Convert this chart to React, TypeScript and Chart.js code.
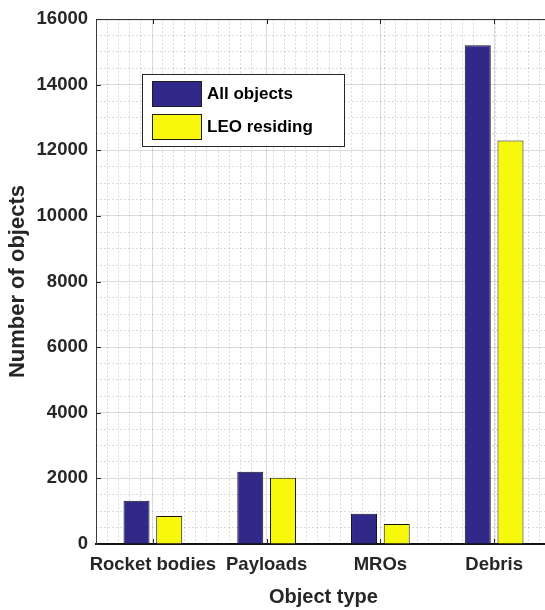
import React, { useEffect, useRef } from "react";
import { Chart, registerables } from "chart.js";

Chart.register(...registerables);

const categories = ["Rocket bodies", "Payloads", "MROs", "Debris"];
const seriesNames = ["All objects", "LEO residing"];
const allObjects = [1320, 2200, 925, 15200];
const leoResiding = [850, 2020, 610, 12300];
const yMin = 0;
const yMax = 16000;
const yMajorStep = 2000;
const yMinorStep = 500;
const xMinorStep = 0.1;
const xTitle = "Object type";
const yTitle = "Number of objects";

const FONT = '"Liberation Sans", Arial, Helvetica, sans-serif';
const TEXT = "#262626";
const MAJOR = "rgba(0,0,0,0.14)";
const MINOR = "rgba(0,0,0,0.14)";
const NAVY = "#30298a";
const YELLOW = "#f8f80c";
const CLEAR = "rgba(0,0,0,0)";

const framePlugin = {
  id: "frameTicks",
  afterDatasetsDraw(chart: any) {
    const { ctx, chartArea, scales } = chart;
    const { left, right, top, bottom } = chartArea;
    ctx.save();
    ctx.strokeStyle = TEXT;
    ctx.lineWidth = 1;
    ctx.beginPath();
    ctx.moveTo(left, top + 0.5);
    ctx.lineTo(right, top + 0.5);
    scales.y.ticks.forEach((t: any) => {
      const py = Math.round(scales.y.getPixelForValue(t.value)) + 0.5;
      ctx.moveTo(left, py);
      ctx.lineTo(left + 5, py);
    });
    categories.forEach((_c, i) => {
      const px = Math.round(scales.x.getPixelForValue(i)) + 0.5;
      ctx.moveTo(px, bottom);
      ctx.lineTo(px, bottom - 5);
      ctx.moveTo(px, top);
      ctx.lineTo(px, top + 5);
    });
    ctx.stroke();
    ctx.restore();
  },
};

const legendPlugin = {
  id: "boxLegend",
  afterDraw(chart: any) {
    const { ctx, chartArea } = chart;
    const x0 = Math.round(chartArea.left + 46);
    const y0 = Math.round(chartArea.top + 55);
    const w = 203;
    const h = 73;
    ctx.save();
    ctx.fillStyle = "#ffffff";
    ctx.fillRect(x0, y0, w, h);
    ctx.strokeStyle = TEXT;
    ctx.lineWidth = 1;
    ctx.strokeRect(x0 + 0.5, y0 + 0.5, w - 1, h - 1);
    chart.data.datasets.forEach((ds: any, i: number) => {
      const sy = y0 + 7 + i * 33;
      ctx.fillStyle = ds.backgroundColor;
      ctx.fillRect(x0 + 10, sy, 50, 26);
      ctx.strokeStyle = "#1f1f1f";
      ctx.strokeRect(x0 + 10.5, sy + 0.5, 49, 25);
      ctx.fillStyle = "#000000";
      ctx.font = `bold 17px ${FONT}`;
      ctx.textBaseline = "middle";
      ctx.textAlign = "left";
      ctx.fillText(ds.label, x0 + 65, sy + 13);
    });
    ctx.restore();
  },
};

const minorX = (c: any) => {
  if (!c || !c.tick) return CLEAR;
  const v = c.tick.value;
  if (Math.abs(v - Math.round(v)) < 1e-6 || Math.abs(v - 0.5) < 1e-6) return CLEAR;
  return MINOR;
};

const minorY = (c: any) => {
  if (!c || !c.tick) return CLEAR;
  return Math.abs(c.tick.value % yMajorStep) < 1e-6 ? CLEAR : MINOR;
};

export default function App() {
  const ref = useRef<HTMLCanvasElement>(null);

  useEffect(() => {
    if (!ref.current) return;
    const chart = new Chart(ref.current, {
      type: "bar",
      data: {
        labels: categories,
        datasets: [
          {
            label: seriesNames[0],
            data: allObjects,
            backgroundColor: NAVY,
            borderColor: "#141414",
            borderWidth: 1,
            xAxisID: "x",
            yAxisID: "y",
            categoryPercentage: 0.575,
            barPercentage: 0.795,
          },
          {
            label: seriesNames[1],
            data: leoResiding,
            backgroundColor: YELLOW,
            borderColor: "#141414",
            borderWidth: 1,
            xAxisID: "x",
            yAxisID: "y",
            categoryPercentage: 0.575,
            barPercentage: 0.795,
          },
        ],
      },
      options: {
        responsive: false,
        animation: false,
        devicePixelRatio: 1,
        layout: { padding: { top: 18, right: 0, bottom: 0, left: 0 } },
        plugins: {
          legend: { display: false },
          tooltip: { enabled: false },
        },
        scales: {
          x: {
            type: "category",
            position: "bottom",
            offset: true,
            grid: { offset: false, color: MAJOR, drawTicks: false },
            border: { display: true, color: "#111111", width: 2 },
            ticks: {
              color: TEXT,
              padding: 10,
              font: { family: FONT, size: 18.5, weight: "bold" },
              maxRotation: 0,
              autoSkip: false,
            },
            title: {
              display: true,
              text: xTitle,
              color: TEXT,
              font: { family: FONT, size: 20, weight: "bold" },
              padding: { top: 0, bottom: 1 },
            },
            afterFit: (s: any) => {
              s.height = 66;
            },
          },
          xMinor: {
            type: "linear",
            position: "bottom",
            min: 0.5,
            max: 4.5,
            ticks: { display: false, stepSize: xMinorStep },
            grid: {
              drawTicks: false,
              color: minorX,
            },
            border: { display: false, dash: [2, 2] },
            afterFit: (s: any) => {
              s.height = 0;
            },
          },
          y: {
            type: "linear",
            position: "left",
            min: yMin,
            max: yMax,
            ticks: {
              stepSize: yMajorStep,
              color: TEXT,
              padding: 8,
              font: { family: FONT, size: 18.5, weight: "bold" },
              callback: (v: any) => String(v),
            },
            grid: { color: MAJOR, drawTicks: false },
            border: { display: true, color: "#3c3c3c", width: 1 },
            title: {
              display: true,
              text: yTitle,
              color: TEXT,
              font: { family: FONT, size: 22, weight: "bold" },
              padding: { top: 5, bottom: 0 },
            },
            afterFit: (s: any) => {
              s.width = 96;
            },
          },
          yMinor: {
            type: "linear",
            position: "left",
            min: yMin,
            max: yMax,
            ticks: { display: false, stepSize: yMinorStep },
            grid: {
              drawTicks: false,
              color: minorY,
            },
            border: { display: false, dash: [2, 2] },
            afterFit: (s: any) => {
              s.width = 0;
            },
          },
        },
      } as any,
      plugins: [framePlugin, legendPlugin],
    });
    return () => chart.destroy();
  }, []);

  return (
    <div
      style={{
        position: "fixed",
        left: 0,
        top: 0,
        width: 545,
        height: 610,
        overflow: "hidden",
        background: "#ffffff",
      }}
    >
      <canvas ref={ref} width={551} height={610} style={{ display: "block" }} />
    </div>
  );
}
